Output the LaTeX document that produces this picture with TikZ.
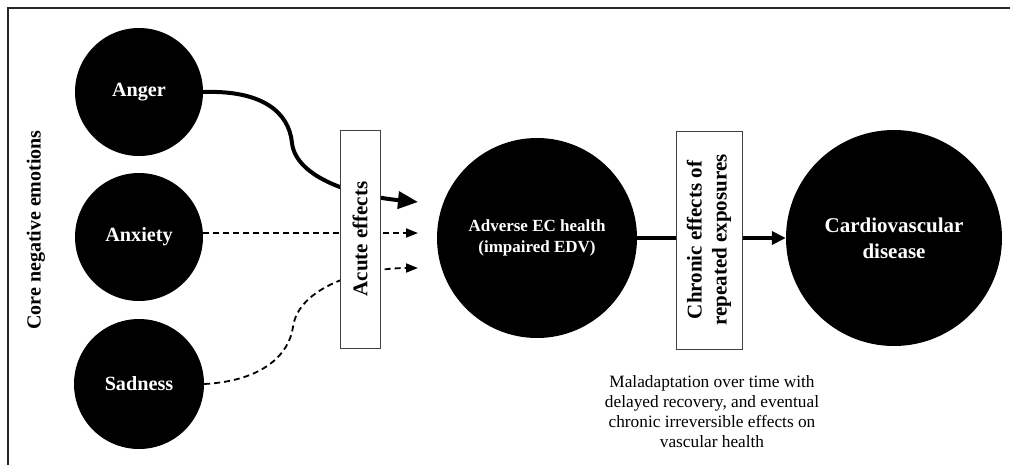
\documentclass[tikz,border=0pt]{standalone}
\usepackage{fontspec}
\setmainfont{Liberation Serif}
\usetikzlibrary{arrows.meta}
\begin{document}
\begin{tikzpicture}[x=1pt,y=-1pt,
  emo/.style={circle,fill=black,draw=none,text=white,font=\fontsize{20.2}{23}\selectfont\bfseries,minimum size=128pt,inner sep=0pt},
  bigc/.style={circle,fill=black,draw=none,text=white,align=center,inner sep=0pt},
  effbox/.style={draw=black!75,line width=0.9pt,fill=white,inner sep=0pt,minimum height=218pt},
  solidarr/.style={line width=4pt,-{Triangle[length=20pt,width=17pt]}},
  dasharr/.style={line width=1.8pt,dash pattern=on 6pt off 4pt,-{Triangle[length=12pt,width=9pt]}},
  chronarr/.style={line width=3.5pt,-{Triangle[length=14pt,width=13pt]}},
  frameline/.style={draw=black!85,line width=2pt}
]
\useasboundingbox (0,0) rectangle (1010,464);
\coordinate (fr1) at (8,470);
\coordinate (fr2) at (8,8);
\coordinate (fr3) at (1012,8);
\draw[frameline] (fr1) -- (fr2) -- (fr3);

\node[rotate=90,font=\fontsize{20}{23}\selectfont\bfseries] (core) at (36,230) {Core negative emotions};

\node[emo] (anger) at (139,92) {Anger};
\node[emo] (anxiety) at (139,237) {Anxiety};
\node[emo,minimum size=130pt] (sadness) at (139,384) {Sadness};

\node[bigc,minimum size=200pt,font=\fontsize{17}{21.5}\selectfont\bfseries] (adverse) at (537,238) {Adverse EC health\\(impaired EDV)};
\node[bigc,minimum size=216pt,font=\fontsize{21}{26}\selectfont\bfseries] (cardio) at (894,238) {Cardiovascular\\disease};

\coordinate (tA) at (418,202);
\coordinate (tB) at (418,233);
\coordinate (tC) at (418,268);

\draw[solidarr] (anger.east) .. controls (262,90) and (289,112) .. (292,143)
   .. controls (296,178) and (355,196) .. (tA);
\draw[dasharr] (anxiety.east |- tB) -- (tB);
\draw[dasharr] (sadness.east) .. controls (262,381) and (289,355) .. (293,327)
   .. controls (298,288) and (360,268) .. (tC);
\draw[chronarr] (adverse) -- (cardio);

\node[effbox,minimum width=40pt] (acute) at (360,239) {};
\node[rotate=90,font=\fontsize{21}{25}\selectfont\bfseries] (acutetxt) at (acute.center) {Acute effects};
\node[effbox,minimum width=66pt] (chronic) at (709,240) {};
\node[rotate=90,align=center,font=\fontsize{21}{25}\selectfont\bfseries] (chrontxt) at (chronic.center) {Chronic effects of\\repeated exposures};

\node[align=center,font=\fontsize{17.3}{20}\selectfont] (note) at (712,412) {Maladaptation over time with\\delayed recovery, and eventual\\chronic irreversible effects on\\vascular health};
\end{tikzpicture}
\end{document}
